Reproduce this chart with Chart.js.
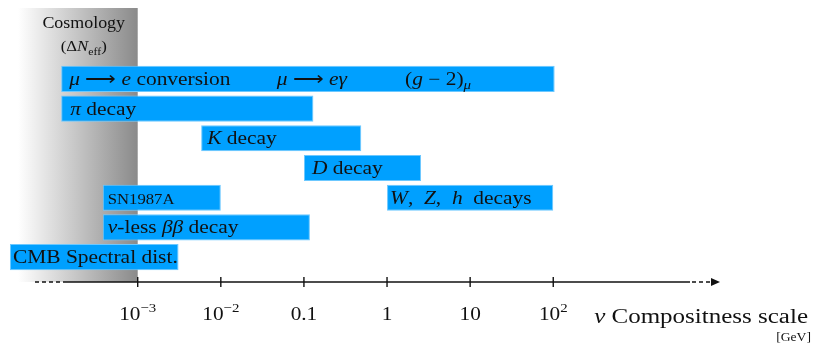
<!DOCTYPE html>
<html>
<head>
<meta charset="utf-8">
<script src="https://cdn.jsdelivr.net/npm/chart.js@4"></script>
<style>
  html, body { margin: 0; padding: 0; background: #fff; }
  #wrap { width: 830px; height: 352px; }
</style>
</head>
<body>
<div id="wrap"><canvas id="chart"></canvas></div>
<script>
// rows, top to bottom
const rows = ['mu-e', 'pi', 'K', 'D', 'SN / WZh', 'nu-less bb', 'CMB'];

// main bars [GeV]
const barLow = [1.2e-4, 1.2e-4, 0.0058, 0.1, 3.8e-4, 3.8e-4, 2.9e-5];
const barHigh = [104, 0.13, 0.49, 2.57, 0.01, 0.118, 3.1e-3];
const barText = [
    '*μ* ⟶ *e* conversion',
    '*π* decay',
    '*K* decay',
    '*D* decay',
    'SN1987A',
    '*ν*-less *ββ* decay',
    'CMB Spectral dist.'
];

// second bar sharing a row
const extraLow = [null, null, null, null, 1, null, null];
const extraHigh = [null, null, null, null, 100, null, null];
const extraText = ['', '', '', '', '*W*,  *Z*,  *h*  decays', '', ''];

// more labels inside the first bar
const noteText = ['*μ* ⟶ *eγ*', '(*g* − 2)_{*μ*}'];
const noteX = [0.047, 1.65];

const tickValues = [1e-3, 1e-2, 0.1, 1, 10, 100];
const tickLabels = ['10^{−3}', '10^{−2}', '0.1', '1', '10', '10^{2}'];

const FONT = '"Liberation Serif", "Times New Roman", serif';
const BLUE = '#00a0ff';
const labelPad = [[8, 9, 6, 8, 5, 5, 3], [0, 0, 0, 0, 3, 0, 0]];

// tiny markup: *italic*, _{sub}, ^{sup}
function parseRich(str) {
    const out = [];
    let it = false, pos = 0, buf = '';
    const push = () => { if (buf) out.push({ t: buf, it, pos }); buf = ''; };
    for (let i = 0; i < str.length; i++) {
        const c = str[i];
        if (c === '*') { push(); it = !it; }
        else if ((c === '_' || c === '^') && str[i + 1] === '{') { push(); pos = c === '_' ? -1 : 1; i++; }
        else if (c === '}' && pos !== 0) { push(); pos = 0; }
        else buf += c;
    }
    push();
    return out;
}

function segFont(s, size) {
    const sz = s.pos ? size * 0.7 : size;
    return (s.it ? 'italic ' : '') + sz + 'px ' + FONT;
}

// text is drawn a bit wider than the font, like the original
function drawRich(ctx, str, x, y, size, align, sx) {
    sx = sx || 1.2;
    const segs = parseRich(str);
    let w = 0;
    segs.forEach(s => { ctx.font = segFont(s, size); s.w = ctx.measureText(s.t).width; w += s.w; });
    const full = w * sx;
    const x0 = align === 'center' ? x - full / 2 : align === 'right' ? x - full : x;
    ctx.save();
    ctx.translate(x0, y);
    ctx.scale(sx, 1);
    ctx.textAlign = 'left';
    ctx.textBaseline = 'alphabetic';
    let cx = 0;
    segs.forEach(s => {
        ctx.font = segFont(s, size);
        const dy = s.pos === -1 ? size * 0.25 : s.pos === 1 ? -size * 0.42 : 0;
        ctx.fillText(s.t, cx, dy);
        cx += s.w;
    });
    ctx.restore();
}

const compositePlugin = {
    id: 'composite',
    beforeDatasetsDraw(chart) {
        const { ctx, scales: { x } } = chart;
        const edge = x.getPixelForValue(1e-3);
        const axisY = chart.chartArea.bottom + 10;
        ctx.save();
        const g = ctx.createLinearGradient(18, 0, edge, 0);
        g.addColorStop(0, '#ffffff');
        g.addColorStop(1, '#8a8a8a');
        ctx.fillStyle = g;
        ctx.fillRect(0, 8, edge, axisY - 8);
        ctx.fillStyle = '#111';
        drawRich(ctx, 'Cosmology', edge - 54, 28, 16, 'center', 1.12);
        drawRich(ctx, '(Δ*N*_{eff})', edge - 54, 51, 15, 'center', 1.12);
        ctx.restore();
    },
    afterDatasetsDraw(chart) {
        const { ctx, scales: { x } } = chart;
        ctx.save();
        ctx.fillStyle = '#111';
        const texts = [barText, extraText];
        texts.forEach((list, di) => {
            chart.getDatasetMeta(di).data.forEach((el, i) => {
                if (!list[i]) return;
                const left = Math.min(el.x, el.base);
                const size = list[i] === 'SN1987A' ? 14 : 18;
                drawRich(ctx, list[i], left + labelPad[di][i], el.y + 6, size, 'left', 1.19);
            });
        });
        const row0 = chart.getDatasetMeta(0).data[0];
        noteText.forEach((t, i) => {
            drawRich(ctx, t, x.getPixelForValue(noteX[i]), row0.y + 6, 18, 'left', 1.19);
        });
        ctx.restore();
    },
    afterDraw(chart) {
        const { ctx, scales: { x } } = chart;
        const y = chart.chartArea.bottom + 10;
        ctx.save();
        ctx.strokeStyle = '#111';
        ctx.fillStyle = '#111';
        ctx.lineWidth = 1.4;
        // axis body
        ctx.beginPath();
        ctx.moveTo(63, y); ctx.lineTo(690, y);
        ctx.stroke();
        ctx.setLineDash([4, 3]);
        ctx.beginPath();
        ctx.moveTo(35, y); ctx.lineTo(63, y);
        ctx.moveTo(692, y); ctx.lineTo(712, y);
        ctx.stroke();
        ctx.setLineDash([]);
        ctx.beginPath();
        ctx.moveTo(711, y - 4); ctx.lineTo(720, y); ctx.lineTo(711, y + 4);
        ctx.closePath();
        ctx.fill();
        // ticks
        tickValues.forEach((v, i) => {
            const px = x.getPixelForValue(v);
            ctx.beginPath();
            ctx.moveTo(px, y - 5); ctx.lineTo(px, y + 5);
            ctx.stroke();
            drawRich(ctx, tickLabels[i], px, y + 38, 19, 'center', 1.12);
        });
        drawRich(ctx, '*ν* Compositness scale', 808, y + 41, 20, 'right', 1.25);
        drawRich(ctx, '[GeV]', 811, y + 59, 13, 'right', 1.05);
        ctx.restore();
    }
};

new Chart(document.getElementById('chart'), {
    type: 'bar',
    data: {
        labels: rows,
        datasets: [
            {
                data: rows.map((_, i) => [barLow[i], barHigh[i]]),
                backgroundColor: BLUE,
                borderColor: '#6cc8ff',
                borderWidth: 1,
                borderSkipped: false,
                grouped: false,
                barPercentage: 0.88,
                categoryPercentage: 1
            },
            {
                data: rows.map((_, i) => extraLow[i] == null ? null : [extraLow[i], extraHigh[i]]),
                backgroundColor: BLUE,
                borderColor: '#6cc8ff',
                borderWidth: 1,
                borderSkipped: false,
                grouped: false,
                barPercentage: 0.88,
                categoryPercentage: 1
            }
        ]
    },
    options: {
        indexAxis: 'y',
        responsive: true,
        maintainAspectRatio: false,
        animation: false,
        layout: { padding: { top: 64, bottom: 80, left: 0, right: 0 } },
        plugins: { legend: { display: false }, tooltip: { enabled: false } },
        scales: {
            x: { type: 'logarithmic', min: Math.pow(10, -4.657), max: Math.pow(10, 5.33), display: false },
            y: { display: false }
        }
    },
    plugins: [compositePlugin]
});
</script>
</body>
</html>
